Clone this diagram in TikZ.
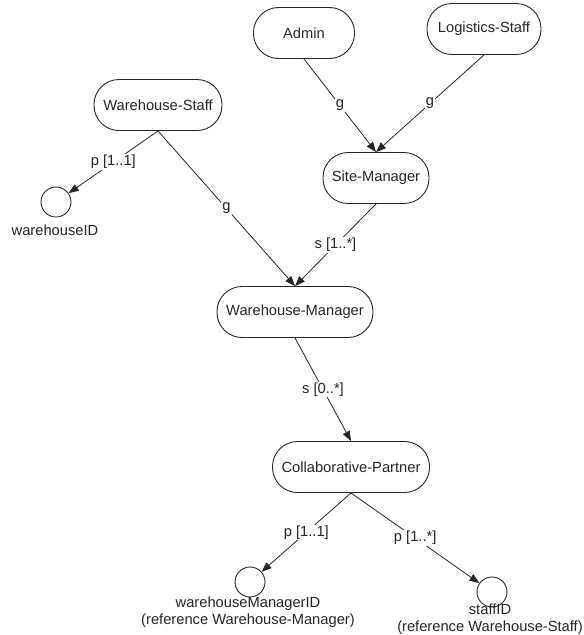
\documentclass[tikz,border=0pt]{standalone}
\usepackage{fontspec}
\setmainfont{Liberation Sans}
\usetikzlibrary{arrows.meta}
\begin{document}
\begin{tikzpicture}[x=1pt,y=-1pt,
  font=\fontsize{14.7}{17.5}\selectfont,
  entity/.style={draw=black!85, line width=0.9pt, rectangle, rounded corners=25pt,
                 minimum height=51pt, inner sep=0pt, text=black!85},
  attr/.style={draw=black!85, line width=0.9pt, circle, minimum size=30pt, inner sep=0pt},
  attrname/.style={align=center, text=black!85, inner sep=0pt},
  link/.style={draw=black!85, line width=0.8pt, -{Triangle[length=10pt,width=7.5pt]}},
  tag/.style={fill=white, inner sep=1pt, text=black!85, pos=0.5}]
\useasboundingbox (0,0) rectangle (584,635);

% entity boxes
\node[entity, minimum width=101pt] (admin)     at (304,33)  {Admin};
\node[entity, minimum width=114pt] (logistics) at (484,29)  {Logistics-Staff};
\node[entity, minimum width=128pt] (wstaff)    at (158,105) {Warehouse-Staff};
\node[entity, minimum width=106pt] (site)      at (376,178) {Site-Manager};
\node[entity, minimum width=156pt] (wmanager)  at (295,312) {Warehouse-Manager};
\node[entity, minimum width=157pt] (partner)   at (351,467) {Collaborative-Partner};

% attribute circles
\node[attr] (whid)    at (56,202)  {};
\node[attr] (wmid)    at (250,582) {};
\node[attr] (staffid) at (492,592) {};

\node[attrname] (whidname)    at (55,230)  {warehouseID};
\node[attrname] (wmidname)    at (248,612) {warehouseManagerID\\(reference Warehouse-Manager)};
\node[attrname] (staffidname) at (490,619) {staffID\\(reference Warehouse-Staff)};

% connectors
\draw[link] (admin.south)     -- node[tag] {g} (site.north);
\draw[link] (logistics.south) -- node[tag] {g} (site.north);
\draw[link] (wstaff.south)    -- node[tag] {p [1..1]} (whid);
\draw[link] (wstaff.south)    -- node[tag] {g} (wmanager.north);
\draw[link] (site.south)      -- node[tag] {s [1..*]} (wmanager.north);
\draw[link] (wmanager.south)  -- node[tag] {s [0..*]} (partner.north);
\draw[link] (partner.south)   -- node[tag] {p [1..1]} (wmid);
\draw[link] (partner.south)   -- node[tag] {p [1..*]} (staffid);
\end{tikzpicture}
\end{document}
